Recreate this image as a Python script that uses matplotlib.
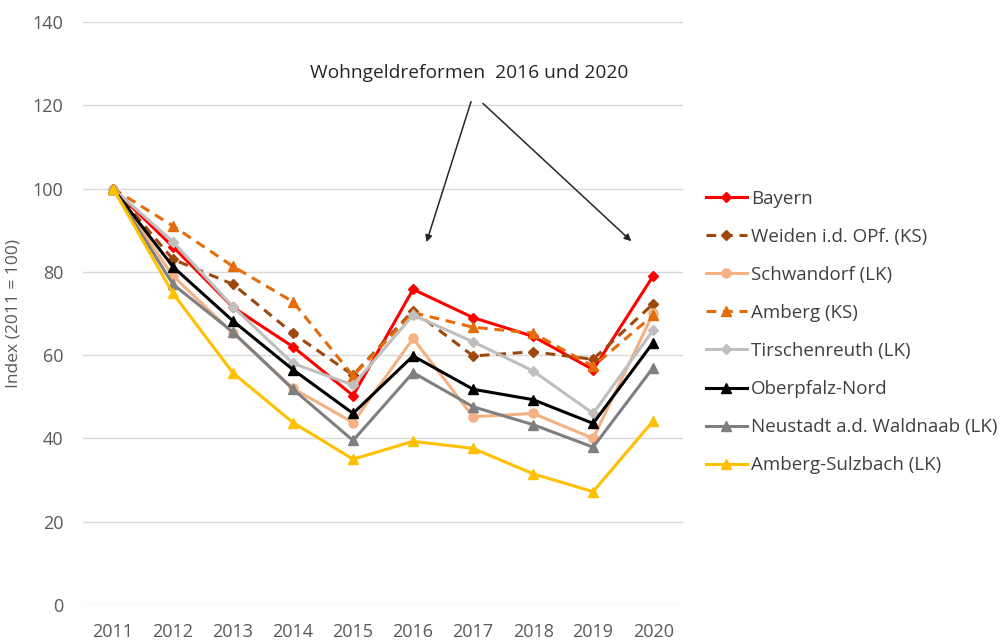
import matplotlib
matplotlib.use("Agg")
import matplotlib.pyplot as plt

years = ["2011", "2012", "2013", "2014", "2015", "2016", "2017", "2018", "2019", "2020"]

bayern = [100, 86, 71.5, 62, 50.3, 75.8, 69, 64.5, 56.5, 79]
weiden = [100, 83, 77, 65.2, 55.2, 70.7, 59.8, 60.8, 59, 72.3]
schwandorf = [100, 79, 65.3, 52, 43.8, 64, 45.2, 46, 40, 70]
amberg_ks = [100, 91, 81.3, 72.8, 55, 70.2, 66.7, 65.3, 57.3, 69.6]
tirschenreuth = [100, 87.2, 71.6, 58, 52.8, 69.6, 63.2, 56.2, 46, 66]
oberpfalz = [100, 81.2, 68.2, 56.5, 46, 59.8, 51.8, 49.3, 43.6, 63]
neustadt = [100, 77, 65.5, 51.8, 39.5, 55.8, 47.6, 43.3, 37.9, 57]
amberg_sulz = [100, 74.8, 55.7, 43.8, 35, 39.3, 37.6, 31.5, 27.2, 44.2]

series = [
    ("Bayern", bayern, "#FF0000", "D", "-"),
    ("Weiden i.d. OPf. (KS)", weiden, "#9E480E", "D", "--"),
    ("Schwandorf (LK)", schwandorf, "#F4B183", "o", "-"),
    ("Amberg (KS)", amberg_ks, "#E46C0A", "^", "--"),
    ("Tirschenreuth (LK)", tirschenreuth, "#BFBFBF", "D", "-"),
    ("Oberpfalz-Nord", oberpfalz, "#000000", "^", "-"),
    ("Neustadt a.d. Waldnaab (LK)", neustadt, "#7F7F7F", "^", "-"),
    ("Amberg-Sulzbach (LK)", amberg_sulz, "#FFC000", "^", "-"),
]

plt.rcParams['font.family'] = ['Open Sans', 'DejaVu Sans']

fig = plt.figure(figsize=(10.07, 6.40), dpi=100)
ax = fig.add_axes([0.0824, 0.0547, 0.596, 0.911])

x = list(range(len(years)))
for name, vals, col, mk, ls in series:
    msize = 6.5 if mk in ("^", "o") else 5.5
    line, = ax.plot(x, vals, color=col, marker=mk, linestyle=ls, linewidth=2.2,
                    markersize=msize, label=name)
    if ls == "--":
        line.set_dashes((3.2, 2.2))

ax.set_xlim(-0.5, len(years) - 0.5)
ax.set_ylim(0, 140)
ax.set_yticks(range(0, 141, 20))
ax.set_xticks(x)
ax.set_xticklabels(years)
ax.grid(axis="y", color="#D9D9D9", linewidth=1.0)
ax.set_axisbelow(True)
for s in ax.spines.values():
    s.set_visible(False)
ax.tick_params(axis="both", length=0, labelsize=13, colors="#595959")
ax.tick_params(axis="x", pad=13)
ax.tick_params(axis="y", pad=14)
ax.set_ylabel("Index (2011 = 100)", fontsize=12.5, color="#595959")
ax.yaxis.set_label_coords(-0.102, 0.5)

ax.text(5.93, 127.8, "Wohngeldreformen  2016 und 2020", ha="center", va="center",
        fontsize=13.8, color="#262626")
ax.annotate("", xy=(5.21, 86.5), xytext=(5.98, 121.5),
            arrowprops=dict(arrowstyle="-|>", color="#262626", lw=1.1, mutation_scale=10))
ax.annotate("", xy=(8.67, 86.9), xytext=(6.13, 120.9),
            arrowprops=dict(arrowstyle="-|>", color="#262626", lw=1.1, mutation_scale=10))

leg = ax.legend(loc="upper left", bbox_to_anchor=(1.025, 0.725), frameon=False,
                fontsize=13.5, handlelength=2.2, handletextpad=0.2,
                labelspacing=1.07, borderaxespad=0)
for t in leg.get_texts():
    t.set_color("#404040")

fig.savefig("out.png", dpi=100)
